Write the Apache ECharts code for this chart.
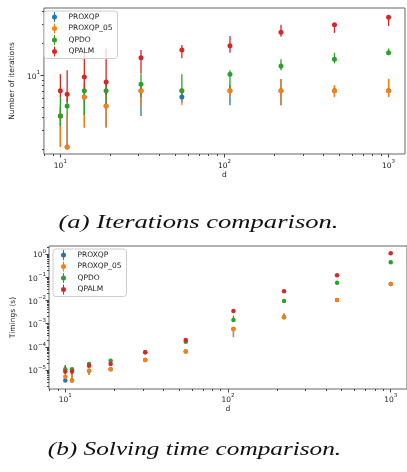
<!DOCTYPE html>
<html>
<head>
<meta charset="utf-8">
<script src="https://cdn.jsdelivr.net/npm/echarts@6/dist/echarts.min.js"></script>
<style>
  html, body { margin: 0; padding: 0; background: #fff; }
  #chart { width: 407px; height: 472px; }
</style>
</head>
<body>
<div id="chart"></div>
<script>
  // problem sizes
  const dValues = [10, 11, 14, 19, 31, 55, 108, 221, 468, 1000];
  const names = ['PROXQP', 'PROXQP_05', 'QPDO', 'QPALM'];
  const colors = ['#1f77b4', '#ff7f0e', '#2ca02c', '#d62728'];

  // (a) number of iterations: value, lower, upper
  const itProxqp   = [4.1, 2.1, 6.2, 5.1, 7.1, 6.2, 7.1, 7.1, 7.1, 7.1];
  const itProxqpLo = [2.1, 2.0, 3.2, 3.2, 4.1, 5.5, 5.2, 5.2, 6.2, 6.2];
  const itProxqpHi = [5.0, 4.2, 7.1, 7.0, 8.0, 7.0, 8.0, 9.2, 8.0, 9.2];
  const itProxqp05   = [4.1, 2.1, 6.2, 5.1, 7.1, 7.1, 7.1, 7.1, 7.1, 7.1];
  const itProxqp05Lo = [2.1, 2.0, 3.2, 3.2, 5.0, 5.2, 6.2, 5.2, 6.2, 6.2];
  const itProxqp05Hi = [5.0, 4.2, 7.1, 7.0, 8.0, 7.5, 8.0, 9.2, 8.0, 9.2];
  const itQpdo   = [4.1, 5.1, 7.1, 7.1, 8.2, 7.1, 10.2, 12.2, 14.1, 16.2];
  const itQpdoLo = [3.3, 4.2, 4.2, 5.0, 6.2, 6.0, 7.1, 11.1, 12.9, 15.4];
  const itQpdoHi = [6.2, 6.2, 8.5, 9.0, 10.2, 10.2, 11.1, 14.1, 16.2, 17.8];
  const itQpalm   = [7.1, 6.6, 9.6, 8.6, 14.6, 17.2, 18.9, 25.4, 29.8, 35.0];
  const itQpalmLo = [6.2, 5.5, 7.1, 6.5, 10.3, 14.4, 16.2, 23.0, 25.0, 29.0];
  const itQpalmHi = [10.2, 11.1, 16.1, 17.8, 17.2, 19.2, 23.3, 29.8, 30.5, 36.0];

  // (b) solving time in seconds: value, lower, upper
  const tProxqp   = [3.5e-6, 3.5e-6, 9.3e-6, 1.07e-5, 2.7e-5, 6.2e-5, 5.9e-4, 1.87e-3, 0.0104, 0.051];
  const tProxqpLo = [3.0e-6, 3.3e-6, 6.0e-6, 1.0e-5, 2.5e-5, 6.0e-5, 2.6e-4, 1.7e-3, 0.010, 0.049];
  const tProxqpHi = [4.5e-6, 8.5e-6, 1.1e-5, 1.15e-5, 2.9e-5, 6.5e-5, 6.5e-4, 2.7e-3, 0.011, 0.053];
  const tProxqp05   = [5.1e-6, 3.5e-6, 9.3e-6, 1.07e-5, 2.7e-5, 6.2e-5, 5.9e-4, 1.87e-3, 0.0104, 0.051];
  const tProxqp05Lo = [4.0e-6, 3.3e-6, 6.0e-6, 1.0e-5, 2.5e-5, 6.0e-5, 2.6e-4, 1.7e-3, 0.010, 0.049];
  const tProxqp05Hi = [7.0e-6, 8.5e-6, 1.1e-5, 1.15e-5, 2.9e-5, 6.5e-5, 6.5e-4, 2.7e-3, 0.011, 0.053];
  const tQpdo   = [1.07e-5, 1.07e-5, 1.8e-5, 2.5e-5, 5.8e-5, 1.66e-4, 1.44e-3, 9.4e-3, 0.058, 0.44];
  const tQpdoLo = [9.0e-6, 9.5e-6, 1.6e-5, 2.3e-5, 5.5e-5, 1.6e-4, 1.2e-3, 9.0e-3, 0.055, 0.42];
  const tQpdoHi = [1.6e-5, 1.2e-5, 2.0e-5, 2.7e-5, 6.1e-5, 1.75e-4, 2.2e-3, 9.8e-3, 0.061, 0.46];
  const tQpalm   = [8.5e-6, 8.5e-6, 1.5e-5, 1.8e-5, 5.8e-5, 1.96e-4, 3.5e-3, 0.0247, 0.12, 1.07];
  const tQpalmLo = [6.5e-6, 6.5e-6, 1.3e-5, 1.7e-5, 5.5e-5, 1.9e-4, 3.3e-3, 0.024, 0.115, 1.03];
  const tQpalmHi = [1.6e-5, 1.2e-5, 1.7e-5, 1.9e-5, 6.1e-5, 2.0e-4, 3.7e-3, 0.0255, 0.125, 1.11];

  // tick labels
  const xMajor = [10, 100, 1000];
  const itMajor = [10];
  const tMajor = [1e-5, 1e-4, 1e-3, 1e-2, 1e-1, 1];

  function minorTicks(from, to) {
    const out = [];
    for (let e = from; e <= to; e++) {
      for (let k = 2; k <= 9; k++) out.push(k * Math.pow(10, e));
    }
    return out;
  }

  const textColor = '#222';
  const font = 'DejaVu Sans';
  const errIcon = 'path://M2.5,0H3.5V10H2.5Z M5.5,5A2.5,2.5,0,1,1,0.5,5A2.5,2.5,0,1,1,5.5,5Z';

  function powLabel(v) {
    const e = Math.round(Math.log10(v));
    return '{b|10}{s|' + (e < 0 ? '\u2212' : '') + Math.abs(e) + '}';
  }
  const powRich = {
    b: { fontSize: 7.5, fontFamily: font, color: textColor, lineHeight: 11, verticalAlign: 'bottom' },
    s: { fontSize: 5.5, fontFamily: font, color: textColor, lineHeight: 6, verticalAlign: 'top' }
  };

  function makeAxes(dim, grid, min, max, major, minor, opts) {
    const pos = dim === 'x' ? 'bottom' : 'left';
    const main = {
      type: 'log', logBase: 10, gridIndex: grid, position: pos, min: min, max: max,
      axisLine: { show: false },
      axisTick: { length: 3.5, lineStyle: { color: '#444', width: 1 }, customValues: major },
      axisLabel: { customValues: major, formatter: powLabel, rich: powRich, margin: opts.margin },
      splitLine: { show: false },
      name: opts.name, nameLocation: 'middle', nameGap: opts.nameGap,
      nameTextStyle: { fontSize: 7.5, fontFamily: font, color: textColor }
    };
    const sub = {
      type: 'log', logBase: 10, gridIndex: grid, position: pos, min: min, max: max,
      axisLine: { show: false },
      axisTick: { length: 2, lineStyle: { color: '#444', width: 1 }, customValues: minor },
      axisLabel: { show: false },
      splitLine: { show: false }
    };
    return [main, sub];
  }

  function renderErr(params, api) {
    const top = api.coord([api.value(0), api.value(2)]);
    const bot = api.coord([api.value(0), api.value(1)]);
    return {
      type: 'line',
      shape: { x1: top[0], y1: top[1], x2: bot[0], y2: bot[1] },
      style: { stroke: api.visual('color'), lineWidth: 1.3 }
    };
  }

  function makeSeries(axisIdx, vals, los, his, symbolSize) {
    const out = [];
    for (let s = 0; s < names.length; s++) {
      out.push({
        name: names[s], type: 'custom', xAxisIndex: axisIdx, yAxisIndex: axisIdx,
        itemStyle: { color: colors[s] },
        renderItem: renderErr,
        encode: { x: 0, y: [1, 2] },
        data: dValues.map((d, i) => [d, los[s][i], his[s][i]])
      });
      out.push({
        name: names[s], type: 'scatter', xAxisIndex: axisIdx, yAxisIndex: axisIdx,
        symbol: 'circle', symbolSize: symbolSize,
        itemStyle: { color: colors[s], opacity: 1 },
        data: dValues.map((d, i) => [d, vals[s][i]])
      });
    }
    return out;
  }

  function makeLegend(left, top) {
    return {
      data: names.map(n => ({ name: n, icon: errIcon })),
      orient: 'vertical', left: left, top: top,
      itemWidth: 6, itemHeight: 10, itemGap: 1.5,
      padding: [1, 5, 2, 8],
      textStyle: { fontSize: 7.5, fontFamily: font, color: textColor, padding: [0, 0, 0, 6] },
      backgroundColor: 'rgba(255,255,255,0.8)',
      borderColor: '#ccc', borderWidth: 1, borderRadius: 3
    };
  }

  const xMin = Math.pow(10, 0.9), xMax = Math.pow(10, 3.1);
  const xMinor = minorTicks(0, 3);

  const xa = makeAxes('x', 0, xMin, xMax, xMajor, xMinor, { name: 'd', nameGap: 15, margin: 5 });
  const ya = makeAxes('y', 0, 1.8, 42.9, itMajor, minorTicks(0, 1), { name: 'Number of iterations', nameGap: 22, margin: 4 });
  const xb = makeAxes('x', 1, xMin, xMax, xMajor, xMinor, { name: 'd', nameGap: 15, margin: 4 });
  const yb = makeAxes('y', 1, 1.51e-6, 2.21, tMajor, minorTicks(-6, 0), { name: 'Timings (s)', nameGap: 25, margin: 3 });

  const chart = echarts.init(document.getElementById('chart'), null, { renderer: 'canvas' });
  chart.setOption({
    animation: false,
    textStyle: { fontFamily: font },
    grid: [
      { left: 40, top: 8, width: 365, height: 146, show: true, borderColor: '#666', borderWidth: 1, backgroundColor: 'transparent' },
      { left: 49, top: 246, width: 360, height: 143, show: true, borderColor: '#666', borderWidth: 1, backgroundColor: 'transparent' }
    ],
    xAxis: xa.concat(xb),
    yAxis: ya.concat(yb),
    legend: [makeLegend(44, 11), makeLegend(53, 249)],
    series: makeSeries(0,
        [itProxqp, itProxqp05, itQpdo, itQpalm],
        [itProxqpLo, itProxqp05Lo, itQpdoLo, itQpalmLo],
        [itProxqpHi, itProxqp05Hi, itQpdoHi, itQpalmHi], 5)
      .concat(makeSeries(2,
        [tProxqp, tProxqp05, tQpdo, tQpalm],
        [tProxqpLo, tProxqp05Lo, tQpdoLo, tQpalmLo],
        [tProxqpHi, tProxqp05Hi, tQpdoHi, tQpalmHi], 4.5)),
    graphic: [
      { type: 'text', x: 198.5, y: 223, scaleX: 1.4,
        style: { text: '(a) Iterations comparison.', font: 'italic 19px "Liberation Serif"', fill: '#111', align: 'center', verticalAlign: 'middle' } },
      { type: 'text', x: 194.5, y: 449.5, scaleX: 1.33,
        style: { text: '(b) Solving time comparison.', font: 'italic 19px "Liberation Serif"', fill: '#111', align: 'center', verticalAlign: 'middle' } }
    ]
  });
</script>
</body>
</html>
